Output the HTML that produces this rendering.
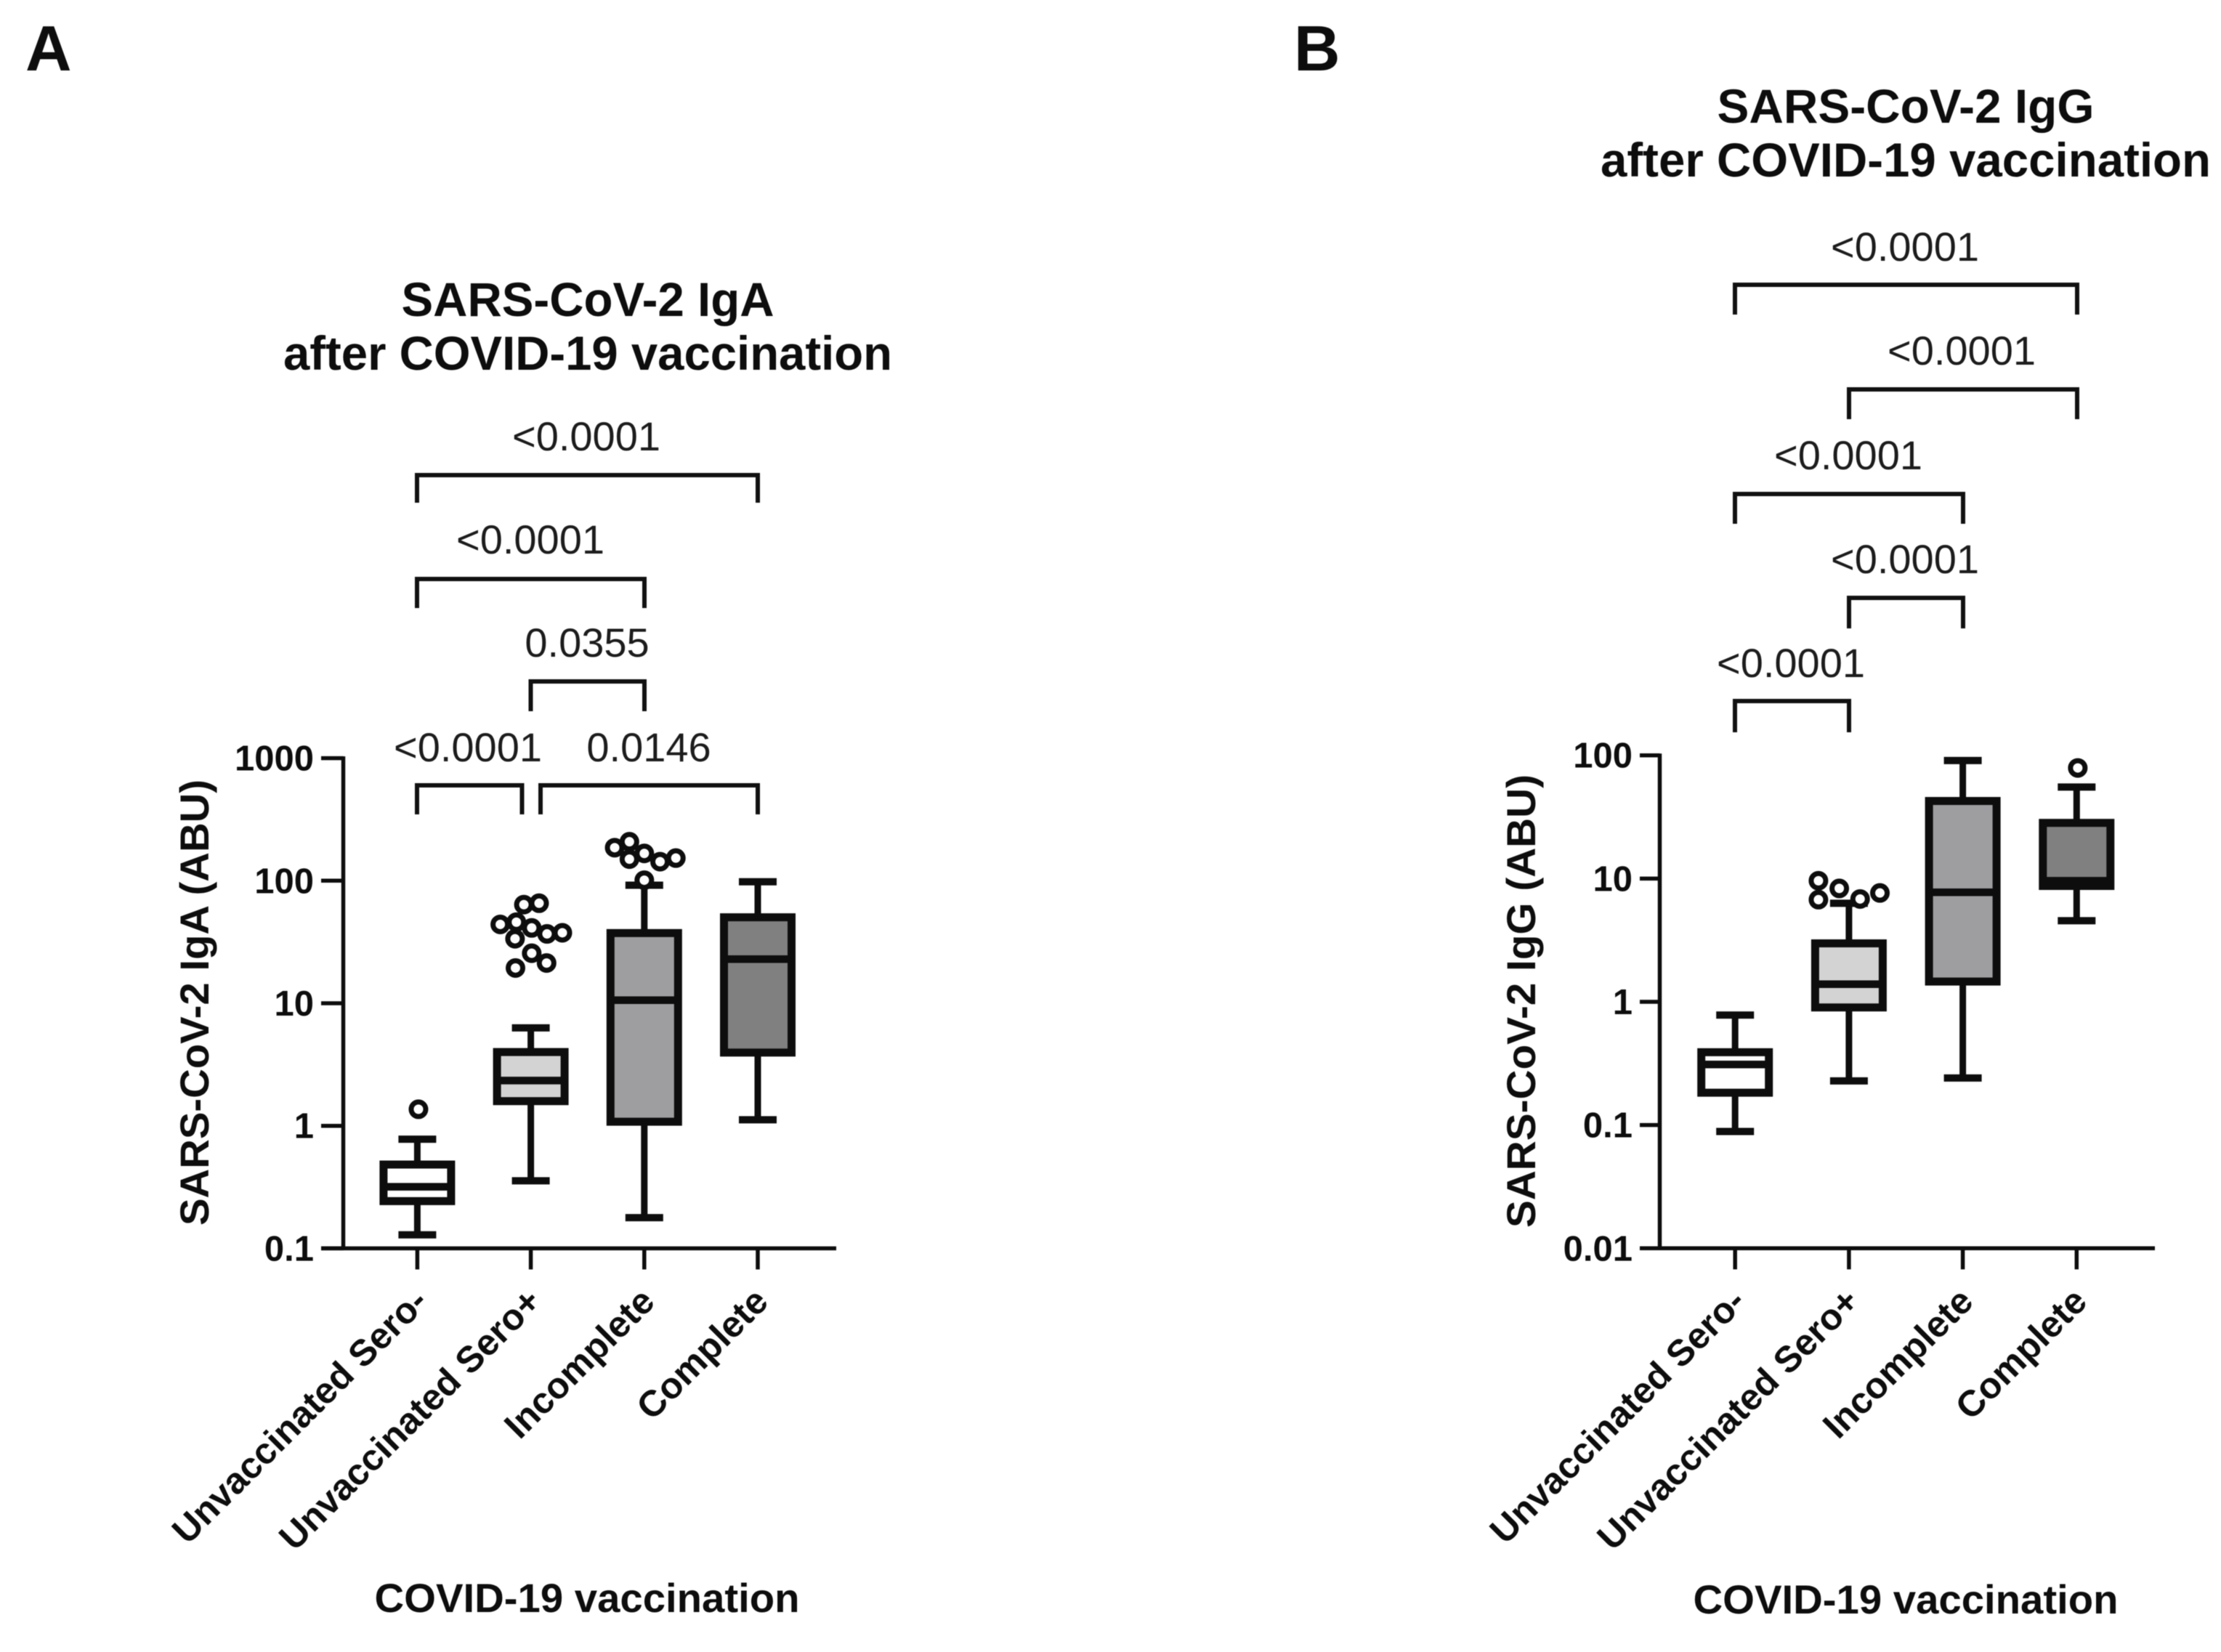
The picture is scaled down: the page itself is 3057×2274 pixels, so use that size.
<!DOCTYPE html>
<html>
<head>
<meta charset="utf-8">
<title>SARS-CoV-2 antibodies after COVID-19 vaccination</title>
<style>
html,body{margin:0;padding:0;background:#fff;}
svg{display:block;filter:blur(0.6px);}
text{font-family:"Liberation Sans",Arial,sans-serif;fill:#0d0d0d;}
.b{font-weight:bold;}
.p{font-size:56px;text-anchor:middle;fill:#1c1c1c;}
.t{font-size:66px;font-weight:bold;text-anchor:middle;}
.br{fill:none;stroke:#111;stroke-width:6;}
</style>
</head>
<body>
<svg id="chart" xmlns="http://www.w3.org/2000/svg" width="3057" height="2274" viewBox="0 0 3057 2274">
<rect x="0" y="0" width="3057" height="2274" fill="#fff"/>

<g id="panelA">
<text class="b" x="35" y="97" font-size="88">A</text>
<text class="t" x="809" y="435" textLength="513" lengthAdjust="spacingAndGlyphs">SARS-CoV-2 IgA</text>
<text class="t" x="809" y="509" textLength="838" lengthAdjust="spacingAndGlyphs">after COVID-19 vaccination</text>
<g>
<text class="p" x="807" y="620">&lt;0.0001</text>
<path class="br" d="M574 692V654H1043V692"/>
<text class="p" x="730" y="762">&lt;0.0001</text>
<path class="br" d="M574 837V797H887V837"/>
<text class="p" x="808" y="904">0.0355</text>
<path class="br" d="M730.5 979V938H887V979"/>
<text class="p" x="644" y="1048">&lt;0.0001</text>
<path class="br" d="M574 1121V1081H718.5V1121"/>
<text class="p" x="893" y="1048">0.0146</text>
<path class="br" d="M744 1121V1081H1043V1121"/>
</g>
<text class="b" font-size="56" text-anchor="middle" transform="translate(287 1380) rotate(-90)" textLength="614" lengthAdjust="spacingAndGlyphs">SARS-CoV-2 IgA (ABU)</text>
<text class="b" font-size="56" text-anchor="middle" x="808" y="2219" textLength="585" lengthAdjust="spacingAndGlyphs">COVID-19 vaccination</text>
</g>

<g id="panelB">
<text class="b" x="1781" y="97" font-size="88">B</text>
<text class="t" x="2623" y="169" textLength="519" lengthAdjust="spacingAndGlyphs">SARS-CoV-2 IgG</text>
<text class="t" x="2623" y="243" textLength="840" lengthAdjust="spacingAndGlyphs">after COVID-19 vaccination</text>
<g>
<text class="p" x="2622" y="359">&lt;0.0001</text>
<path class="br" d="M2388 433V392H2859V433"/>
<text class="p" x="2700" y="502">&lt;0.0001</text>
<path class="br" d="M2545 577V536H2859V577"/>
<text class="p" x="2544" y="646">&lt;0.0001</text>
<path class="br" d="M2388 721V680H2702V721"/>
<text class="p" x="2622" y="789">&lt;0.0001</text>
<path class="br" d="M2545 865V823H2702V865"/>
<text class="p" x="2465" y="932">&lt;0.0001</text>
<path class="br" d="M2388 1008V965H2545V1008"/>
</g>
<text class="b" font-size="56" text-anchor="middle" transform="translate(2113 1378) rotate(-90)" textLength="624" lengthAdjust="spacingAndGlyphs">SARS-CoV-2 IgG (ABU)</text>
<text class="b" font-size="56" text-anchor="middle" x="2623" y="2221" textLength="585" lengthAdjust="spacingAndGlyphs">COVID-19 vaccination</text>
</g>
</svg>

<script>
// ---- shared categories ----
const categories = ['Unvaccinated Sero-', 'Unvaccinated Sero+', 'Incomplete', 'Complete'];

// ---- panel A : IgA ----
const igaTicks = [1000, 100, 10, 1, 0.1];
const igaWhiskerLow = [0.129, 0.356, 0.178, 1.12];
const igaQ1 = [0.243, 1.59, 1.08, 3.96];
const igaMedian = [0.318, 2.34, 10.6, 22.9];
const igaQ3 = [0.483, 4.0, 37.4, 50.3];
const igaWhiskerHigh = [0.778, 6.3, 91.9, 98];
const igaOutlierGroup = [0.01, 1.073, 0.939, 0.873, 0.731, 1.008, 1.143, 1.278, 0.861, 1.008, 1.139, 0.865, 1.739, 1.869, 1.869, 2, 2.139, 2.278, 2];
const igaOutlierValue = [1.365, 65.5, 63.8, 45.9, 44, 41.2, 36.8, 37.6, 33.6, 25.6, 21.3, 19.4, 186, 208, 150, 167, 143, 153, 101];

// ---- panel B : IgG ----
const iggTicks = [100, 10, 1, 0.1, 0.01];
const iggWhiskerLow = [0.0887, 0.228, 0.241, 4.55];
const iggQ1 = [0.183, 0.90, 1.46, 8.71];
const iggMedian = [0.31, 1.39, 7.74, 9.6];
const iggQ3 = [0.39, 2.98, 42.6, 28.3];
const iggWhiskerHigh = [0.78, 6.3, 90.7, 55.3];
const iggOutlierGroup = [0.732, 0.732, 0.915, 1.098, 1.272, 3.01];
const iggOutlierValue = [9.6, 6.74, 8.32, 6.83, 7.64, 79];

const boxFills = ['#ffffff', '#d3d3d3', '#9e9ea1', '#808080'];
const NS = 'http://www.w3.org/2000/svg';

function mk(parent, tag, attrs) {
  const el = document.createElementNS(NS, tag);
  for (const k in attrs) el.setAttribute(k, attrs[k]);
  parent.appendChild(el);
  return el;
}

function drawPanel(p) {
  const root = document.getElementById(p.root);
  const xScale = function (i) { return p.firstX + i * p.stepX; };
  const yScale = function (v) {
    const top = Math.log10(p.ticks[0]);
    const bot = Math.log10(p.ticks[p.ticks.length - 1]);
    return p.yTop + (top - Math.log10(v)) / (top - bot) * (p.yBottom - p.yTop);
  };
  const ink = '#0d0d0d';

  const axes = mk(root, 'g', {});
  
  

  const yAxis = mk(axes, 'line', {x1: p.axisX, x2: p.axisX, y1: yScale(p.ticks[0]) - 2.5, y2: p.yBottom, stroke: ink, 'stroke-width': 5.5});
  
  

  const xAxis = mk(axes, 'line', {x1: p.axisLeft, x2: p.axisRight, y1: p.yBottom, y2: p.yBottom, stroke: ink, 'stroke-width': 5.5});
  
  

  p.ticks.forEach(function (t) {
    const y = yScale(t);
    const tick = mk(axes, 'line', {x1: p.axisLeft, x2: p.axisX, y1: y, y2: y, stroke: ink, 'stroke-width': 5.5});
    
    
    const lab = mk(axes, 'text', {x: p.axisLeft - 10, y: y + 17, 'text-anchor': 'end', 'font-size': 49, 'font-weight': 'bold'});
    lab.textContent = String(t);
    
    
  });

  categories.forEach(function (c, i) {
    const x = xScale(i);
    const tick = mk(axes, 'line', {x1: x, x2: x, y1: p.yBottom, y2: p.yBottom + 29, stroke: ink, 'stroke-width': 5.5});
    
    
    const lab = mk(axes, 'text', {'text-anchor': 'end', 'font-size': 50.5, 'font-weight': 'bold', transform: 'translate(' + (x + 17) + ' ' + (p.yBottom + 76) + ') rotate(-45)'});
    lab.textContent = c;
    
    
  });

  const boxHalf = 46.5, capHalf = 26;
  categories.forEach(function (c, i) {
    const x = xScale(i);
    const g = mk(root, 'g', {});
    
    

    const whisker = mk(g, 'line', {x1: x, x2: x, y1: yScale(p.low[i]), y2: yScale(p.high[i]), stroke: ink, 'stroke-width': 9});
    
    

    const capLow = mk(g, 'line', {x1: x - capHalf, x2: x + capHalf, y1: yScale(p.low[i]), y2: yScale(p.low[i]), stroke: ink, 'stroke-width': 10});
    
    

    const capHigh = mk(g, 'line', {x1: x - capHalf, x2: x + capHalf, y1: yScale(p.high[i]), y2: yScale(p.high[i]), stroke: ink, 'stroke-width': 10});
    
    

    const box = mk(g, 'rect', {x: x - boxHalf, y: yScale(p.q3[i]), width: boxHalf * 2, height: yScale(p.q1[i]) - yScale(p.q3[i]), fill: boxFills[i], stroke: ink, 'stroke-width': 11});
    
    

    const med = mk(g, 'line', {x1: x - boxHalf, x2: x + boxHalf, y1: yScale(p.median[i]), y2: yScale(p.median[i]), stroke: ink, 'stroke-width': 10.5});
    
    
  });

  p.outGroup.forEach(function (g, i) {
    const o = mk(root, 'circle', {cx: xScale(g), cy: yScale(p.outValue[i]), r: 10, fill: '#fff', stroke: ink, 'stroke-width': 7});
    
    
  });
}

drawPanel({id: 'panel-a', root: 'panelA', ticks: igaTicks, low: igaWhiskerLow, q1: igaQ1, median: igaMedian, q3: igaQ3, high: igaWhiskerHigh, outGroup: igaOutlierGroup, outValue: igaOutlierValue, firstX: 574.4, stepX: 156.2, yTop: 1043.6, yBottom: 1718.4, axisX: 472.5, axisLeft: 442, axisRight: 1151});
drawPanel({id: 'panel-b', root: 'panelB', ticks: iggTicks, low: iggWhiskerLow, q1: iggQ1, median: iggMedian, q3: iggQ3, high: iggWhiskerHigh, outGroup: iggOutlierGroup, outValue: iggOutlierValue, firstX: 2388.2, stepX: 156.7, yTop: 1039.7, yBottom: 1718.3, axisX: 2284.5, axisLeft: 2257, axisRight: 2966});
</script>
</body>
</html>
